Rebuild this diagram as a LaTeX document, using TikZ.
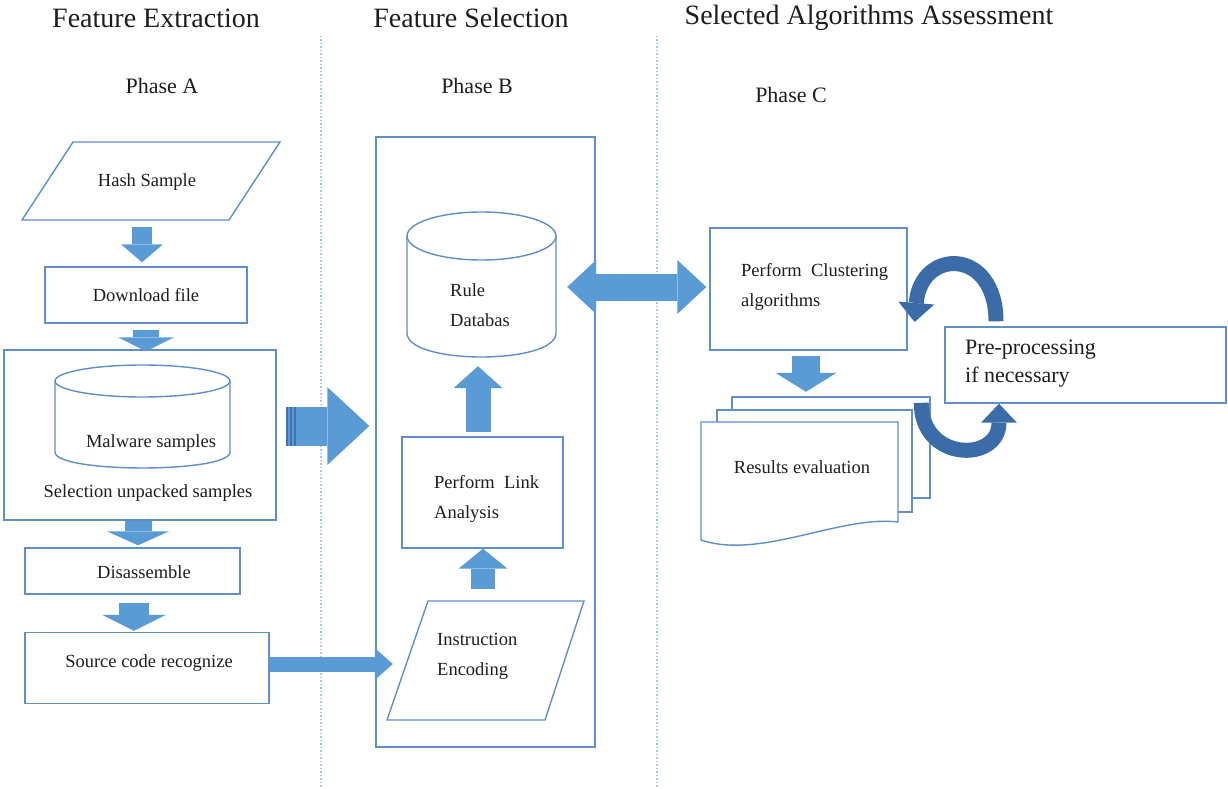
\documentclass[tikz,border=0pt]{standalone}
\usepackage{fontspec}
\setmainfont{Liberation Serif}
\usetikzlibrary{arrows.meta}
\definecolor{boxline}{HTML}{5E8FCB}
\definecolor{blockfill}{HTML}{5B9BD5}
\definecolor{stripe}{HTML}{3F73AE}
\definecolor{loopblue}{HTML}{3C6CA8}
\definecolor{guide}{HTML}{A8C8EA}
\definecolor{ink}{HTML}{1E1E1E}
\tikzset{
  boxed/.style={draw=boxline, line width=1.4pt, fill=white, rectangle, inner sep=0pt},
  hidden/.style={rectangle, inner sep=0pt},
  shapeline/.style={draw=boxline, line width=1.4pt, fill=white},
  lbl/.style={font=\fontsize{18.5}{30}\selectfont, text=ink, inner sep=0pt, align=left},
  header/.style={font=\fontsize{28}{32}\selectfont, text=ink, inner sep=0pt},
  phase/.style={font=\fontsize{22}{26}\selectfont, text=ink, inner sep=0pt},
  guideline/.style={draw=guide, line width=1.3pt, dash pattern=on 1.5pt off 2pt},
  blk/.style n args={3}{draw=blockfill, line width=#1,
    -{Triangle[length=#3, width=#2, line width=0pt]}},
  dblblk/.style n args={3}{draw=blockfill, line width=#1,
    {Triangle[length=#3, width=#2, line width=0pt]}-{Triangle[length=#3, width=#2, line width=0pt]}},
  loop/.style={draw=loopblue, line width=15pt,
    -{Triangle[length=19pt, width=36pt, line width=0pt]}},
}
\begin{document}
\begin{tikzpicture}[x=1pt, y=-1pt]
\useasboundingbox[fill=white] (0,0) rectangle (1228,789);

% column separators
\coordinate (gAtop) at (321,36);
\coordinate (gAbot) at (321,789);
\coordinate (gBtop) at (657,36);
\coordinate (gBbot) at (657,789);
\draw[guideline] (gAtop) -- (gAbot);
\draw[guideline] (gBtop) -- (gBbot);

% titles
\node[header] (hA) at (156,18) {Feature Extraction};
\node[header] (hB) at (471,18) {Feature Selection};
\node[header] (hC) at (869,18) {Selected Algorithms Assessment};
\node[phase] (pA) at (162,86) {Phase A};
\node[phase] (pB) at (477,86) {Phase B};
\node[phase] (pC) at (791,95) {Phase C};

% ---------- Phase A ----------
\draw[shapeline] (73,142) -- (280,142) -- (229,220) -- (22,220) -- cycle;
\node[hidden, minimum width=207pt, minimum height=78pt] (hash) at (151,181) {};
\node[lbl] (hasht) at (147,182) {Hash Sample};

\node[boxed, lbl, minimum width=202pt, minimum height=56pt] (dl) at (146,295) {Download file};

\node[boxed, minimum width=272pt, minimum height=170pt] (boxA) at (140,435) {};
\draw[shapeline] (55,381) -- (55,452) .. controls (55,473.3) and (230,473.3) .. (230,452) -- (230,381);
\draw[shapeline] (142.5,381) ellipse [x radius=87.5, y radius=16];
\node[lbl] (malw) at (151,443) {Malware samples};
\node[lbl] (sel) at (148,493) {Selection unpacked samples};

\node[boxed, minimum width=215pt, minimum height=46pt] (dis) at (132.5,571) {};
\node[lbl] (dist) at (144,572) {Disassemble};

\node[boxed, minimum width=244pt, minimum height=71pt] (src) at (147,668) {};
\node[lbl] (srct) at (149,663) {Source code recognize};

% ---------- Phase B ----------
\node[boxed, minimum width=219pt, minimum height=610pt] (boxB) at (485.5,442) {};

\draw[shapeline] (407,236) -- (407,333) .. controls (407,365) and (556,365) .. (556,333) -- (556,236);
\draw[shapeline] (481.5,236) ellipse [x radius=74.5, y radius=24];
\node[hidden, minimum width=149pt, minimum height=145pt] (rule) at (481.5,284.5) {};
\node[lbl, anchor=west] (rulet) at (450,305) {Rule\\Databas};

\node[boxed, minimum width=161pt, minimum height=111pt] (link) at (482.5,492.5) {};
\node[lbl, anchor=west] (linkt) at (434,499) {Perform\ \ Link\\Analysis};

\draw[shapeline] (428,601) -- (584,601) -- (545,720) -- (387,720) -- cycle;
\node[hidden, minimum width=157pt, minimum height=119pt] (instr) at (486,660.5) {};
\node[lbl, anchor=west] (instrt) at (437,656) {Instruction\\Encoding};

% ---------- Phase C ----------
\node[boxed, minimum width=197pt, minimum height=122pt] (clus) at (808.5,289) {};
\node[lbl, anchor=west] (clust) at (741,287) {Perform\ \ Clustering\\algorithms};

\draw[shapeline] (732,397) rectangle (930,498);
\draw[shapeline] (717,410) rectangle (912,512);
\draw[shapeline] (701,422) -- (898,422) -- (898,522) .. controls (840,515) and (760,560) .. (701,540) -- cycle;
\node[hidden, minimum width=229pt, minimum height=151pt] (docs) at (815.5,472.5) {};
\node[lbl] (res) at (802,467) {Results evaluation};

\node[boxed, minimum width=281pt, minimum height=76pt] (pre) at (1085.5,365) {};
\node[font=\fontsize{22}{28}\selectfont, text=ink, inner sep=0pt, align=left, anchor=west] (pret) at (965,364) {Pre-processing\\if necessary};

% ---------- block arrows ----------
\draw[blk={20pt}{42pt}{18pt}] ([xshift=-9pt,yshift=-7pt]hash.south) -- ([xshift=-4pt,yshift=4pt]dl.north);
\draw[blk={26pt}{56pt}{14pt}] ([yshift=-6pt]dl.south) -- ([xshift=6pt,yshift=-2pt]boxA.north);
\draw[blk={27pt}{62pt}{14pt}] ([xshift=-2pt]boxA.south) -- ([xshift=5.5pt,yshift=2pt]dis.north);
\draw[blk={30pt}{64pt}{16pt}] ([xshift=1.5pt,yshift=-8pt]dis.south) -- ([xshift=-13pt,yshift=1pt]src.north);
\draw[blk={15pt}{32pt}{18pt}] ([yshift=4pt]src.east) -- ([xshift=-14.5pt,yshift=-3.5pt]instr.west);

\draw[blk={39pt}{78pt}{42pt}] ([xshift=9pt,yshift=9pt]boxA.east) -- ([xshift=-6pt,yshift=16pt]boxB.west);
\draw[draw=stripe, line width=1.5pt] (287,407) -- (287,446) (291,407) -- (291,446) (295,407) -- (295,446);

\draw[blk={24pt}{49pt}{20pt}] ([xshift=-3pt,yshift=12pt]instr.north) -- ([xshift=0.5pt]link.south);
\draw[blk={25pt}{49pt}{22pt}] ([xshift=-4.5pt,yshift=4pt]link.north) -- ([xshift=-3.5pt,yshift=-9pt]rule.south);

\draw[dblblk={27pt}{54pt}{29pt}] ([xshift=11pt,yshift=-2.5pt]rule.east) -- ([xshift=-3pt,yshift=2pt]clus.west);
\draw[blk={28pt}{61pt}{19pt}] ([xshift=-2.5pt,yshift=-5pt]clus.south) -- ([xshift=-9.5pt,yshift=5pt]docs.north);

% ---------- feedback loop ----------
\draw[loop] ([xshift=-89.5pt,yshift=5pt]pre.north) .. controls +(0,-74) and +(6,-74) .. ([xshift=7pt,yshift=-33pt]clus.east);
\draw[loop] ([xshift=-9pt,yshift=-6pt]docs.north east) .. controls +(0,59) and +(0,59) .. ([xshift=-86.5pt]pre.south);
\end{tikzpicture}
\end{document}
